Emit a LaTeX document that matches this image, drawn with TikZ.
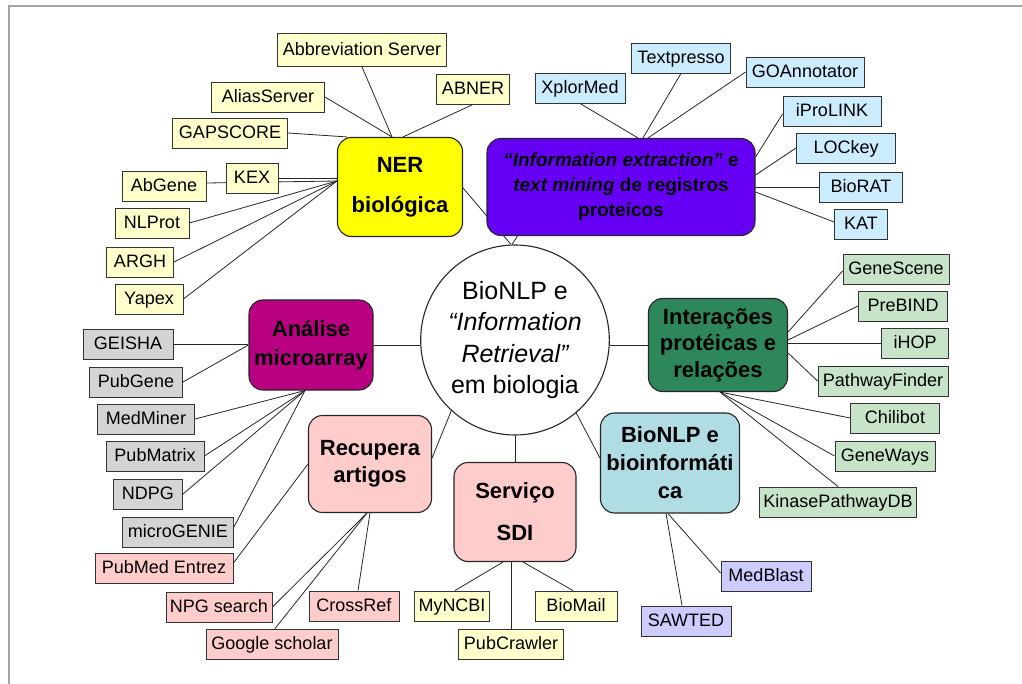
\documentclass[tikz,border=0pt]{standalone}
\usepackage{fontspec}
\setmainfont{Liberation Sans}
\usetikzlibrary{shapes.geometric}
\pgfdeclarelayer{bg}
\pgfdeclarelayer{paper}
\pgfsetlayers{paper,bg,main}
\definecolor{lyel}{RGB}{255,255,204}
\definecolor{nery}{RGB}{255,255,0}
\definecolor{purp}{RGB}{102,0,245}
\definecolor{lblu}{RGB}{204,236,255}
\definecolor{dgrn}{RGB}{46,135,90}
\definecolor{lgrn}{RGB}{200,228,200}
\definecolor{teal}{RGB}{176,220,228}
\definecolor{lav}{RGB}{204,204,255}
\definecolor{pnk}{RGB}{255,204,204}
\definecolor{mag}{RGB}{185,0,130}
\definecolor{lgry}{RGB}{212,212,212}
\definecolor{frame}{RGB}{165,165,165}
\begin{document}
\begin{tikzpicture}[x=1pt,y=-1pt,
  lf/.style={draw=black!80, line width=0.9pt, inner xsep=4pt, inner ysep=0pt,
    minimum height=30pt, text height=13.5pt, text depth=3pt,
    font=\fontsize{18}{20}\selectfont},
  mb/.style={draw=black!85, line width=1.1pt, rounded corners=14pt, align=center,
    inner sep=0pt},
  ln/.style={draw=black!85, line width=0.8pt}]
\useasboundingbox (0,0) rectangle (1022,684);
\begin{pgfonlayer}{paper}
\fill[white] (0,0) rectangle (1022,684);
\draw[frame, line width=1.5pt] (9,684) -- (9,6) -- (1022,6);
\end{pgfonlayer}

% central circle
\node[ellipse, draw=black!85, line width=1.1pt, fill=white, minimum width=186pt,
  minimum height=190pt, inner sep=0pt, align=center,
  font=\fontsize{25}{31.5}\selectfont] (c) at (515,340)
  {BioNLP e\\{\itshape “Information}\\{\itshape Retrieval”}\\em biologia};

% main boxes
\node[mb, fill=nery, minimum width=125pt, minimum height=99pt,
  font=\bfseries\fontsize{22}{40}\selectfont] (ner) at (400,187) {NER\\biológica};
\node[mb, fill=purp, minimum width=268pt, minimum height=97pt,
  font=\bfseries\fontsize{19}{25}\selectfont] (info) at (621,187)
  {{\itshape “Information extraction”} e\\{\itshape text mining} de registros\\proteícos};
\node[mb, fill=dgrn, minimum width=139pt, minimum height=93pt,
  font=\bfseries\fontsize{22}{26.5}\selectfont] (inter) at (718,345)
  {Interações\\protéicas e\\relações};
\node[mb, fill=teal, minimum width=139pt, minimum height=100pt,
  font=\bfseries\fontsize{22}{28}\selectfont] (bio) at (670,463)
  {BioNLP e\\bioinformáti\\ca};
\node[mb, fill=pnk, minimum width=122pt, minimum height=99pt,
  font=\bfseries\fontsize{22}{42}\selectfont] (serv) at (515,512) {Serviço\\SDI};
\node[mb, fill=pnk, minimum width=123pt, minimum height=97pt,
  font=\bfseries\fontsize{22}{27}\selectfont] (rec) at (370,464) {Recupera\\artigos};
\node[mb, fill=mag, minimum width=124pt, minimum height=90pt,
  font=\bfseries\fontsize{22}{29}\selectfont] (ana) at (311,345) {Análise\\microarray};

% NER leaves
\node[lf, fill=lyel, minimum width=169pt, minimum height=33pt] (abbr) at (362,50) {Abbreviation Server};
\node[lf, fill=lyel, minimum width=113pt] (alias) at (268,97) {AliasServer};
\node[lf, fill=lyel, minimum width=73pt] (abner) at (473,89) {ABNER};
\node[lf, fill=lyel, minimum width=115pt] (gap) at (230,133) {GAPSCORE};
\node[lf, fill=lyel, minimum width=84pt] (abgene) at (164,186) {AbGene};
\node[lf, fill=lyel, minimum width=52pt] (kex) at (252,178) {KEX};
\node[lf, fill=lyel, minimum width=74pt] (nlprot) at (152,223) {NLProt};
\node[lf, fill=lyel, minimum width=67pt] (argh) at (140,262) {ARGH};
\node[lf, fill=lyel, minimum width=68pt] (yapex) at (149,299) {Yapex};

% info leaves
\node[lf, fill=lblu, minimum width=90pt] (xplor) at (580,88) {XplorMed};
\node[lf, fill=lblu, minimum width=99pt] (textp) at (681,58) {Textpresso};
\node[lf, fill=lblu, minimum width=118pt] (goann) at (805,72) {GOAnnotator};
\node[lf, fill=lblu, minimum width=98pt] (iprol) at (832,111) {iProLINK};
\node[lf, fill=lblu, minimum width=99pt] (lockey) at (846,148) {LOCkey};
\node[lf, fill=lblu, minimum width=83pt] (biorat) at (861,187) {BioRAT};
\node[lf, fill=lblu, minimum width=53pt] (kat) at (861,224) {KAT};

% interaction leaves
\node[lf, fill=lgrn, minimum width=106pt] (genesc) at (896,269) {GeneScene};
\node[lf, fill=lgrn, minimum width=89pt] (prebind) at (903,306) {PreBIND};
\node[lf, fill=lgrn, minimum width=67pt] (ihop) at (915,343) {iHOP};
\node[lf, fill=lgrn, minimum width=130pt] (pathf) at (883,381) {PathwayFinder};
\node[lf, fill=lgrn, minimum width=89pt] (chili) at (895,418) {Chilibot};
\node[lf, fill=lgrn, minimum width=100pt] (geneways) at (885,456) {GeneWays};
\node[lf, fill=lgrn, minimum width=156pt] (kinase) at (838,502) {KinasePathwayDB};

% bioinformatics leaves
\node[lf, fill=lav, minimum width=90pt] (medblast) at (766,576) {MedBlast};
\node[lf, fill=lav, minimum width=90pt] (sawted) at (686,621) {SAWTED};

% SDI leaves
\node[lf, fill=lyel, minimum width=74pt] (myncbi) at (452,606) {MyNCBI};
\node[lf, fill=lyel, minimum width=82pt] (biomail) at (576,606) {BioMail};
\node[lf, fill=lyel, minimum width=105pt] (pubcr) at (511,644) {PubCrawler};

% retrieval leaves
\node[lf, fill=pnk, minimum width=138pt] (pubmed) at (164,568) {PubMed Entrez};
\node[lf, fill=pnk, minimum width=105pt] (npg) at (219,607) {NPG search};
\node[lf, fill=pnk, minimum width=90pt] (crossref) at (354,606) {CrossRef};
\node[lf, fill=pnk, minimum width=132pt] (google) at (272,644) {Google scholar};

% microarray leaves
\node[lf, fill=lgry, minimum width=90pt] (geisha) at (128,344) {GEISHA};
\node[lf, fill=lgry, minimum width=93pt] (pubgene) at (136,382) {PubGene};
\node[lf, fill=lgry, minimum width=97pt] (medminer) at (146,419) {MedMiner};
\node[lf, fill=lgry, minimum width=98pt] (pubmatrix) at (155,456) {PubMatrix};
\node[lf, fill=lgry, minimum width=69pt] (ndpg) at (148,494) {NDPG};
\node[lf, fill=lgry, minimum width=111pt] (microg) at (178,532) {microGENIE};

\begin{pgfonlayer}{bg}
% NER
\draw[ln] (abbr.south) -- ([xshift=-8pt]ner.north);
\draw[ln] (alias.east) -- ([xshift=-8pt]ner.north);
\draw[ln] (abner.south) -- ([xshift=3pt]ner.north);
\draw[ln] (gap.east) -- ([xshift=10pt]ner.north west);
\draw[ln] (kex.east) -- (kex.east -| ner.west);
\draw[ln] ([yshift=3pt]abgene.east) -- ([yshift=6pt]ner.west);
\draw[ln] (nlprot.east) -- ([yshift=6pt]ner.west);
\draw[ln] (argh.east) -- ([yshift=6pt]ner.west);
\draw[ln] (yapex.east) -- ([yshift=6pt]ner.west);
% centre
\draw[ln] ([xshift=-4pt]c.north) -- ([yshift=-1pt]ner.east);
\draw[ln] ([xshift=-3pt]c.north) -- ([xshift=31pt]info.south west);
\draw[ln] (inter.west) -- (inter.west -| c.east);
\draw[ln] (ana.east) -- (ana.east -| c.west);
\draw[ln] (c.228) -- ([yshift=6pt]rec.east);
\draw[ln] (c.south) -- (serv.north);
\draw[ln] (c.310) -- ([yshift=5pt]bio.west);
% info
\draw[ln] (xplor.south) -- ([xshift=17pt]info.north);
\draw[ln] (textp.south) -- ([xshift=22pt]info.north);
\draw[ln] (goann.west) -- ([xshift=27pt]info.north);
\draw[ln] ([yshift=-3pt]iprol.west) -- ([yshift=30pt]info.east);
\draw[ln] (lockey.west) -- ([yshift=12pt]info.east);
\draw[ln] (biorat.west) -- (biorat.west -| info.east);
\draw[ln] ([yshift=2pt]kat.west) -- ([yshift=-5pt]info.east);
% interactions
\draw[ln] ([yshift=-2pt]genesc.west) -- ([yshift=13pt]inter.east);
\draw[ln] (prebind.west) -- ([yshift=5pt]inter.east);
\draw[ln] (ihop.west) -- (ihop.west -| inter.east);
\draw[ln] (pathf.west) -- ([yshift=-8pt]inter.east);
\draw[ln] (chili.west) -- ([xshift=2pt]inter.south);
\draw[ln] (geneways.west) -- ([xshift=2pt]inter.south);
\draw[ln] (kinase.north) -- ([xshift=2pt]inter.south);
% bioinformatics
\draw[ln] ([xshift=-4pt]sawted.north) -- ([xshift=-4pt]bio.south);
\draw[ln] ([yshift=3pt]medblast.west) -- ([xshift=-2pt]bio.south);
% SDI
\draw[ln] ([xshift=3pt]myncbi.north) -- ([xshift=-12pt]serv.south);
\draw[ln] (pubcr.north) -- (pubcr.north |- serv.south);
\draw[ln] ([xshift=-3pt]biomail.north) -- ([xshift=8pt]serv.south);
% retrieval
\draw[ln] ([yshift=5pt]pubmed.east) -- (rec.west);
\draw[ln] (npg.east) -- ([xshift=-3pt]rec.south);
\draw[ln] ([xshift=3pt]google.north) -- ([xshift=-3pt]rec.south);
\draw[ln] ([xshift=4pt]crossref.north) -- (rec.south);
% microarray
\draw[ln] (geisha.east) -- (geisha.east -| ana.west);
\draw[ln] (pubgene.east) -- (ana.west);
\draw[ln] (medminer.east) -- ([xshift=-6pt]ana.south);
\draw[ln] (pubmatrix.east) -- ([xshift=-6pt]ana.south);
\draw[ln] (ndpg.east) -- ([xshift=-6pt]ana.south);
\draw[ln] ([yshift=5pt]microg.east) -- ([xshift=-6pt]ana.south);
\end{pgfonlayer}
\end{tikzpicture}
\end{document}
